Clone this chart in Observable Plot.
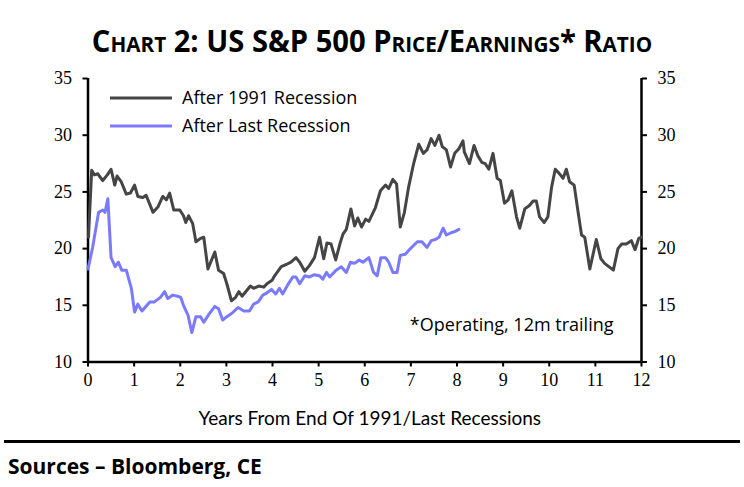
<!DOCTYPE html>
<html><head><meta charset="utf-8">
<script src="https://cdn.jsdelivr.net/npm/d3@7"></script>
<script src="https://cdn.jsdelivr.net/npm/@observablehq/plot@0.6"></script>
<style>
body{margin:0;background:#fff;width:744px;height:487px;overflow:hidden;position:relative;font-family:"Open Sans",sans-serif;}
#title{position:absolute;left:0;top:22px;width:744px;text-align:center;font-weight:bold;font-variant:small-caps;font-size:31px;font-family:"Liberation Sans Narrow","Open Sans",sans-serif;line-height:36px;color:#000;transform:scaleX(0.94);transform-origin:372px 0;}
#chart{position:absolute;left:0;top:62px;}
#rule{position:absolute;left:4px;top:440px;width:736px;height:3px;background:#000;}
#src{position:absolute;left:8px;top:452px;font-weight:bold;font-size:21px;line-height:28px;}
#legend{position:absolute;left:0;top:0;width:744px;height:160px;pointer-events:none;}
</style>
</head><body>
<div id="title"></div>
<div id="chart"></div>
<div id="rule"></div>
<div id="src"></div>
<svg id="legend" width="744" height="160"></svg>
<script>
const titleText = "Chart 2: US S&P 500 Price/Earnings* Ratio";
const sourceText = "Sources \u2013 Bloomberg, CE";
const axisTitle = "Years From End Of 1991/Last Recessions";
const noteText = "*Operating, 12m trailing";
const seriesNames = ["After 1991 Recession", "After Last Recession"];
const seriesColors = ["#454545", "#7a7aff"];
const xTicks = [0,1,2,3,4,5,6,7,8,9,10,11,12];
const yTicks = [10,15,20,25,30,35];

const years1991 = [0.01,0.08,0.14,0.21,0.32,0.42,0.50,0.58,0.63,0.72,0.83,0.92,1.01,1.08,1.19,1.26,1.41,1.52,1.62,1.70,1.77,1.86,1.99,2.07,2.12,2.18,2.27,2.34,2.44,2.51,2.60,2.75,2.83,2.94,3.01,3.11,3.20,3.27,3.34,3.52,3.59,3.70,3.81,3.88,3.99,4.03,4.19,4.30,4.40,4.51,4.59,4.70,4.80,4.91,5.02,5.11,5.18,5.27,5.37,5.46,5.53,5.60,5.70,5.78,5.85,5.93,6.02,6.09,6.23,6.34,6.45,6.52,6.61,6.69,6.77,6.86,6.95,7.06,7.17,7.27,7.35,7.44,7.52,7.61,7.68,7.77,7.86,7.95,8.04,8.13,8.16,8.27,8.37,8.45,8.54,8.61,8.69,8.78,8.87,8.94,9.03,9.11,9.19,9.29,9.36,9.47,9.57,9.65,9.72,9.79,9.89,9.97,10.05,10.13,10.20,10.30,10.37,10.44,10.54,10.63,10.70,10.77,10.88,11.02,11.12,11.20,11.39,11.49,11.57,11.67,11.78,11.86,11.94,12.0];
const pe1991 = [21.0,26.9,26.5,26.6,26.0,26.5,27.0,25.6,26.4,25.9,24.8,24.9,25.6,24.6,24.5,24.7,23.2,23.7,24.6,24.3,24.9,23.4,23.4,22.9,22.3,22.9,22.2,20.6,20.9,21.0,18.2,19.7,18.1,17.8,16.9,15.4,15.7,16.2,15.8,16.7,16.5,16.7,16.6,16.9,17.2,17.5,18.4,18.6,18.8,19.2,18.8,18.0,18.5,19.2,21.0,19.1,20.5,20.4,19.0,20.4,21.3,21.7,23.5,22.0,22.7,21.9,22.6,22.4,23.6,25.1,25.6,25.3,26.1,25.7,21.9,23.2,25.4,27.5,29.2,28.4,28.7,29.7,29.1,30.0,29.0,28.7,27.2,28.4,28.8,29.5,28.5,27.5,29.1,28.2,27.6,27.5,27.0,28.4,26.2,26.0,24.0,24.3,25.1,22.8,21.8,23.5,23.8,24.2,24.2,22.8,22.3,22.8,25.4,27.0,26.7,26.2,27.0,25.9,25.6,23.1,21.2,21.0,18.2,20.8,19.1,18.7,18.1,20.0,20.4,20.4,20.7,19.9,20.9,21.0];

const yearsLast = [0.0,0.10,0.23,0.32,0.37,0.43,0.50,0.59,0.66,0.73,0.83,0.94,1.01,1.08,1.17,1.34,1.44,1.57,1.66,1.73,1.84,1.94,2.01,2.07,2.17,2.25,2.34,2.44,2.51,2.62,2.75,2.83,2.92,3.01,3.12,3.25,3.38,3.50,3.59,3.69,3.79,3.88,3.98,4.07,4.15,4.22,4.33,4.44,4.51,4.59,4.70,4.80,4.91,5.02,5.09,5.17,5.24,5.38,5.49,5.60,5.69,5.78,5.88,5.96,6.09,6.19,6.27,6.35,6.45,6.52,6.61,6.70,6.77,6.88,6.99,7.14,7.24,7.35,7.44,7.53,7.61,7.70,7.77,7.87,7.95,8.04];
const peLast = [18.2,20.1,23.2,23.4,23.2,24.4,19.2,18.4,18.8,18.1,18.1,16.5,14.4,15.1,14.5,15.3,15.3,15.7,16.2,15.6,15.9,15.8,15.7,15.0,14.1,12.6,14.0,14.0,13.5,14.2,14.9,14.7,13.7,14.0,14.3,14.8,14.5,14.5,15.1,15.3,15.9,16.1,16.4,16.0,16.5,16.0,16.8,17.5,17.5,16.9,17.6,17.5,17.7,17.6,17.3,17.9,17.5,18.1,18.4,17.9,18.8,18.7,19.0,18.8,19.2,17.9,17.6,19.2,19.2,18.8,17.9,17.9,19.4,19.5,20.0,20.6,20.6,20.1,20.7,20.8,21.0,21.8,21.2,21.4,21.5,21.7];

document.getElementById("title").textContent = titleText;
document.getElementById("src").textContent = sourceText;

const rows = [];
years1991.forEach((t,i)=>rows.push({t, v: pe1991[i], s: seriesNames[0]}));
yearsLast.forEach((t,i)=>rows.push({t, v: peLast[i], s: seriesNames[1]}));

const tickFont = "Liberation Serif, DejaVu Serif, serif";
const chart = Plot.plot({
  width: 744, height: 373,
  marginTop: 16, marginBottom: 73.5, marginLeft: 87.5, marginRight: 103,
  x: {domain: [0, 12]},
  y: {domain: [10, 35]},
  color: {domain: seriesNames, range: seriesColors},
  style: {fontFamily: "Open Sans, sans-serif", fontSize: "17px", color: "#000", background: "#fff", overflow: "visible"},
  marks: [
    Plot.axisY(yTicks, {anchor: "left", tickSize: 5, tickPadding: 11, strokeWidth: 2, fontSize: 18, fontFamily: tickFont, label: null}),
    Plot.axisY(yTicks, {anchor: "right", tickSize: 5, tickPadding: 11, strokeWidth: 2, fontSize: 18, fontFamily: tickFont, label: null}),
    Plot.axisX(xTicks, {anchor: "bottom", tickSize: 5, tickPadding: 6, strokeWidth: 2, fontSize: 18, fontFamily: tickFont, label: null}),
    Plot.ruleX([0, 12], {y1: 10, y2: 35, stroke: "#000", strokeWidth: 2.5}),
    Plot.ruleY([10], {stroke: "#000", strokeWidth: 2.5}),
    Plot.line(rows, {x: "t", y: "v", z: "s", stroke: "s", strokeWidth: 3, strokeLinejoin: "round"}),
    Plot.text([axisTitle], {frameAnchor: "bottom", dx: 5, dy: 56.5, fontSize: 19, fontFamily: "Lato, Open Sans, sans-serif", lineAnchor: "middle", fill: "#000"}),
    Plot.text([noteText], {frameAnchor: "bottom-right", dx: -28, dy: -36.5, textAnchor: "end", lineAnchor: "middle", fontSize: 18, fill: "#000"})
  ]
});
document.getElementById("chart").appendChild(chart);

// legend
const lg = d3.select("#legend");
seriesNames.forEach((name, i) => {
  const y = 98 + i * 28;
  lg.append("line").attr("x1", 110).attr("x2", 172).attr("y1", y).attr("y2", y)
    .attr("stroke", seriesColors[i]).attr("stroke-width", 3);
  lg.append("text").attr("x", 182).attr("y", y).attr("dy", "0.35em")
    .attr("font-family", "Open Sans, sans-serif").attr("font-size", 18).attr("fill", "#000").text(name);
});
</script>
</body></html>
